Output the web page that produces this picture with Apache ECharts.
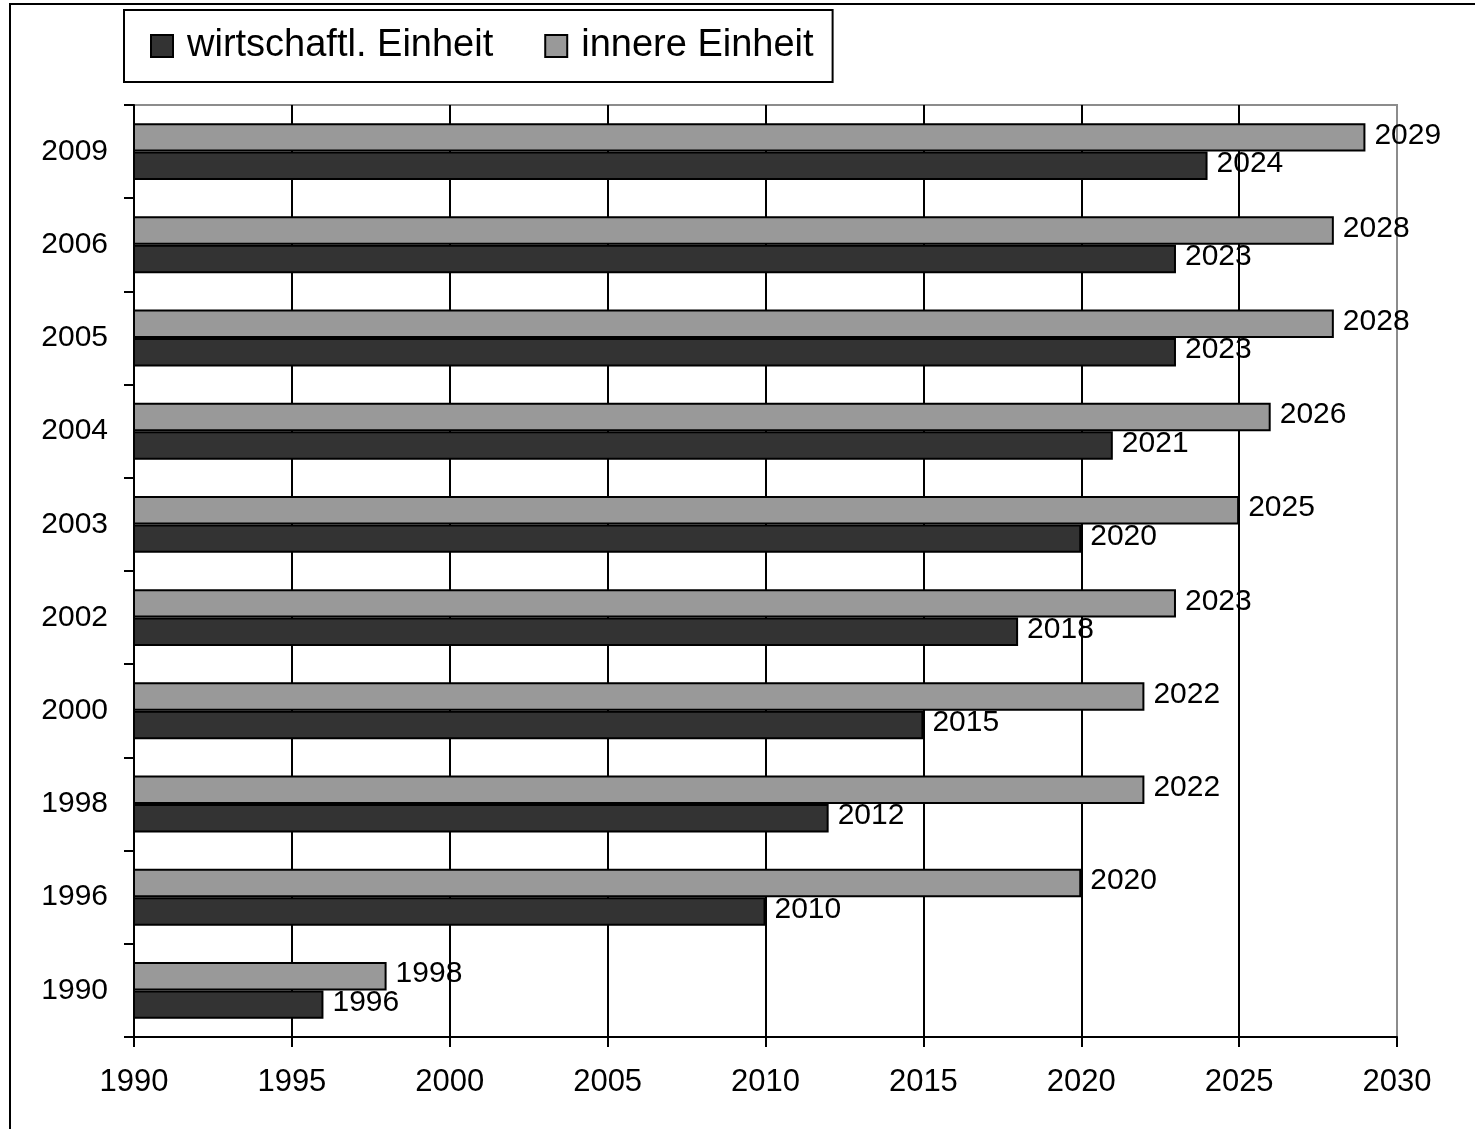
<!DOCTYPE html>
<html>
<head>
<meta charset="utf-8">
<script src="https://cdn.jsdelivr.net/npm/echarts@6/dist/echarts.min.js"></script>
<style>
  html, body { margin: 0; padding: 0; background: #fff; }
  #chart { width: 1475px; height: 1129px; }
</style>
</head>
<body>
<div id="chart"></div>
<script>
// Jahr der Prognose (Kategorien, von unten nach oben)
const categories = ["1990", "1996", "1998", "2000", "2002", "2003", "2004", "2005", "2006", "2009"];
// erwartetes Jahr der wirtschaftlichen Einheit
const wirtschaftl = [1996, 2010, 2012, 2015, 2018, 2020, 2021, 2023, 2023, 2024];
// erwartetes Jahr der inneren Einheit
const innere = [1998, 2020, 2022, 2022, 2023, 2025, 2026, 2028, 2028, 2029];

const font = "'Liberation Sans', Arial, sans-serif";

let myChart = echarts.init(document.getElementById("chart"));

// gemeinsames Label für beide Serien
const barLabel = {
  show: true,
  position: "right",
  distance: 9,
  offset: [0, -2],
  color: "#000",
  fontSize: 30,
  fontFamily: font,
};

myChart.setOption({
  animation: false,
  backgroundColor: "#fff",
  // äußerer Rahmen (rechts und unten abgeschnitten)
  graphic: [
    {
      type: "rect",
      shape: { x: 10, y: 4, width: 2000, height: 2000 },
      style: { fill: "none", stroke: "#000", lineWidth: 2 },
      silent: true,
    },
  ],
  legend: {
    data: ["wirtschaftl. Einheit", "innere Einheit"],
    left: 124,
    top: 10,
    orient: "horizontal",
    itemWidth: 22,
    itemHeight: 22,
    itemGap: 51,
    padding: [17, 19, 17, 26],
    borderColor: "#000",
    borderWidth: 2,
    backgroundColor: "#fff",
    icon: "rect",
    textStyle: {
      color: "#000",
      fontSize: 38,
      fontFamily: font,
      padding: [0, 0, 0, 9],
    },
  },
  grid: {
    left: 134,
    right: 78,
    top: 105,
    bottom: 92,
    show: true,
    borderColor: "#8c8c8c",
    borderWidth: 2,
    backgroundColor: "transparent",
  },
  xAxis: {
    type: "value",
    min: 1990,
    max: 2030,
    interval: 5,
    axisLine: { show: true, lineStyle: { color: "#000", width: 2 } },
    axisTick: { show: true, length: 10, lineStyle: { color: "#000", width: 2 } },
    axisLabel: {
      color: "#000",
      fontSize: 31,
      fontFamily: font,
      margin: 30,
      formatter: (v) => String(v),
    },
    splitLine: {
      show: true,
      showMinLine: false,
      showMaxLine: false,
      lineStyle: { color: "#000", width: 2 },
    },
  },
  yAxis: {
    type: "category",
    data: categories,
    axisLine: { show: true, lineStyle: { color: "#000", width: 2 } },
    axisTick: { show: true, length: 10, lineStyle: { color: "#000", width: 2 } },
    axisLabel: {
      color: "#000",
      fontSize: 30,
      fontFamily: font,
      margin: 26,
    },
    splitLine: { show: false },
  },
  series: [
    {
      name: "innere Einheit",
      type: "bar",
      data: innere,
      barGap: "0%",
      barCategoryGap: "39%",
      itemStyle: { color: "#999999", borderColor: "#000", borderWidth: 2 },
      label: barLabel,
      z: 3,
    },
    {
      name: "wirtschaftl. Einheit",
      type: "bar",
      data: wirtschaftl,
      barGap: "0%",
      barCategoryGap: "39%",
      itemStyle: { color: "#333333", borderColor: "#000", borderWidth: 2 },
      label: barLabel,
      z: 3,
    },
  ],
});
</script>
</body>
</html>
